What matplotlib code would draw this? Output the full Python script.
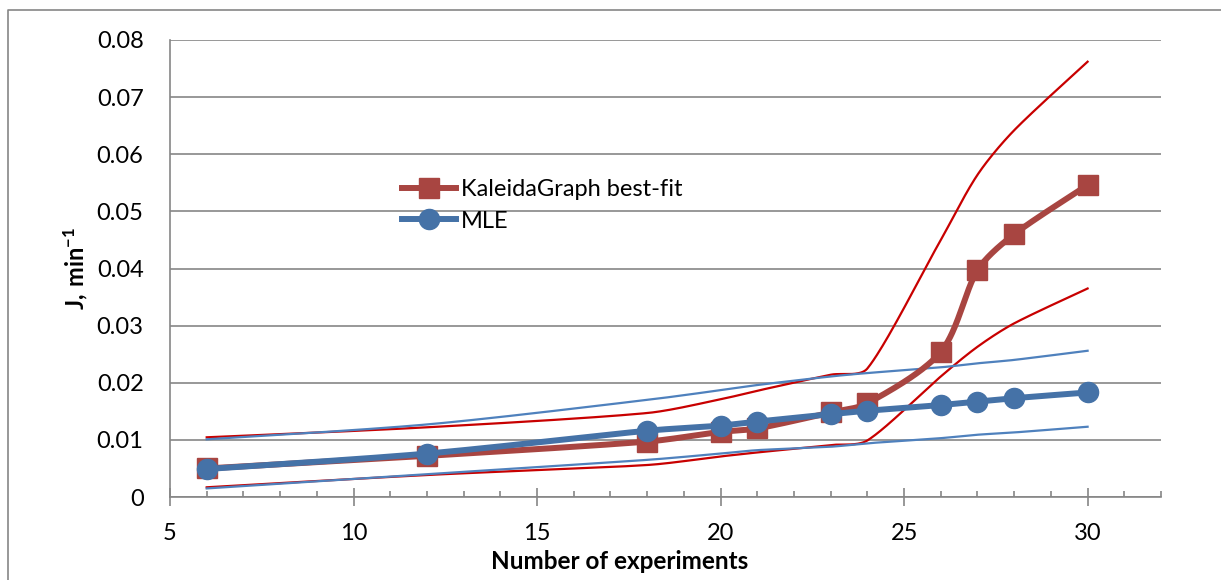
import numpy as np
import matplotlib
matplotlib.use("Agg")
import matplotlib.pyplot as plt
from matplotlib.lines import Line2D

# -----------------------------
# DATA
# -----------------------------
n_exp = [6, 12, 18, 20, 21, 23, 24, 26, 27, 28, 30]

kg_fit = [0.0050, 0.0072, 0.0097, 0.0114, 0.0120, 0.0148, 0.0164, 0.0254, 0.0397, 0.0460, 0.0546]
kg_upper = [0.01045, 0.0122, 0.0147, 0.0171, 0.0186, 0.0214, 0.0225, 0.0450, 0.0564, 0.0642, 0.0762]
kg_lower = [0.0017, 0.00385, 0.0056, 0.0071, 0.0078, 0.0091, 0.0099, 0.0211, 0.0263, 0.0304, 0.0365]

mle = [0.0049, 0.0076, 0.0116, 0.0125, 0.0132, 0.0145, 0.0151, 0.0161, 0.0167, 0.0173, 0.0183]
mle_upper = [0.0101, 0.0127, 0.0170, 0.0187, 0.0196, 0.0211, 0.0217, 0.0227, 0.0234, 0.0240, 0.0256]
mle_lower = [0.0015, 0.0040, 0.0065, 0.0076, 0.0082, 0.0088, 0.0094, 0.0103, 0.0109, 0.0113, 0.0123]

RED = "#A84541"
BLUE = "#4572A7"
RED_THIN = "#C80000"
BLUE_THIN = "#4F81BD"
GRID = "#868686"


def smooth(ax, x, y, n=40, cap=0.3):
    # Excel-like smoothed line: bezier segments, done in screen space,
    # control arms limited to a share of the segment length
    p = ax.transData.transform(np.column_stack([x, y]).astype(float))
    out = []
    for i in range(len(p) - 1):
        p0 = p[i - 1] if i > 0 else p[i]
        p1, p2 = p[i], p[i + 1]
        p3 = p[i + 2] if i + 2 < len(p) else p[i + 1]
        seg_len = np.hypot(*(p2 - p1))
        a1 = (p2 - p0) / 6
        a2 = (p3 - p1) / 6
        for a in (a1, a2):
            L = np.hypot(*a)
            if L > cap * seg_len:
                a *= cap * seg_len / L
        c1 = p1 + a1
        c2 = p2 - a2
        t = np.linspace(0, 1, n)[:, None]
        seg = ((1 - t) ** 3) * p1 + 3 * ((1 - t) ** 2) * t * c1 + 3 * (1 - t) * t ** 2 * c2 + t ** 3 * p2
        out.append(seg if i == 0 else seg[1:])
    out = ax.transData.inverted().transform(np.vstack(out))
    return out[:, 0], out[:, 1]


plt.rcParams['font.family'] = ['Lato', 'DejaVu Sans']
plt.rcParams['mathtext.fontset'] = 'custom'
plt.rcParams['mathtext.rm'] = 'Lato'
plt.rcParams['mathtext.bf'] = 'Lato:bold'

fig = plt.figure(figsize=(12.21, 5.80), dpi=100)
ax = fig.add_axes([170 / 1221, 83 / 580, 991 / 1221, 457 / 580])
ax.set_xlim(5, 32)
ax.set_ylim(0, 0.08)

# bands
for band in (kg_upper, kg_lower):
    sx, sy = smooth(ax, n_exp, band)
    ax.plot(sx, sy, color=RED_THIN, lw=1.6, zorder=3)
for band in (mle_upper, mle_lower):
    sx, sy = smooth(ax, n_exp, band)
    ax.plot(sx, sy, color=BLUE_THIN, lw=1.6, zorder=3)

# main series
sx, sy = smooth(ax, n_exp, kg_fit)
ax.plot(sx, sy, color=RED, lw=4.3, zorder=4, solid_capstyle='round')
ax.plot(n_exp, kg_fit, ls='none', marker='s', ms=14.4, color=RED, zorder=5)
sx, sy = smooth(ax, n_exp, mle)
ax.plot(sx, sy, color=BLUE, lw=4.3, zorder=6, solid_capstyle='round')
ax.plot(n_exp, mle, ls='none', marker='o', ms=14.5, color=BLUE, zorder=7)

ax.set_xlim(5, 32)
ax.set_ylim(0, 0.08)
ax.set_xticks([5, 10, 15, 20, 25, 30])
ax.set_xticks(np.arange(5, 33, 1), minor=True)
ax.set_yticks(np.arange(0, 0.081, 0.01))
ax.set_yticklabels(["0", "0.01", "0.02", "0.03", "0.04", "0.05", "0.06", "0.07", "0.08"])

ax.grid(axis='y', color=GRID, lw=1.2)
ax.set_axisbelow(True)
for s in ("top", "right"):
    ax.spines[s].set_visible(False)
for s in ("left", "bottom"):
    ax.spines[s].set_color(GRID)
    ax.spines[s].set_linewidth(1.2)

ax.tick_params(axis='x', which='major', direction='inout', length=13, width=1.2,
               color=GRID, pad=12, labelsize=17)
ax.tick_params(axis='x', which='minor', direction='in', length=4.5, width=1.2, color=GRID)
ax.tick_params(axis='y', length=0, pad=19, labelsize=17)

ax.set_xlabel("Number of experiments", fontsize=17.5, fontweight='bold')
ax.xaxis.set_label_coords(0.454, -0.115)
ax.set_ylabel(r"$\mathbf{J{,}\ min^{-1}}$", fontsize=17)
ax.yaxis.set_label_coords(-0.081, 0.5)

handles = [
    Line2D([], [], color=RED, lw=4.3, marker='s', ms=14.4),
    Line2D([], [], color=BLUE, lw=4.3, marker='o', ms=14.5),
]
ax.legend(handles, ["KaleidaGraph best-fit", "MLE"], loc='center left',
          bbox_to_anchor=(0.234, 0.638), frameon=False, fontsize=17, numpoints=1,
          borderpad=0, borderaxespad=0, handlelength=2.3, handletextpad=0.2,
          labelspacing=0.45)

# chart area border (Excel style)
fig.add_artist(Line2D([8 / 1221, 8 / 1221, 1], [0, 1 - 10 / 580, 1 - 10 / 580],
                      transform=fig.transFigure, color=GRID, lw=1.2))

fig.savefig("out.png", dpi=100)
